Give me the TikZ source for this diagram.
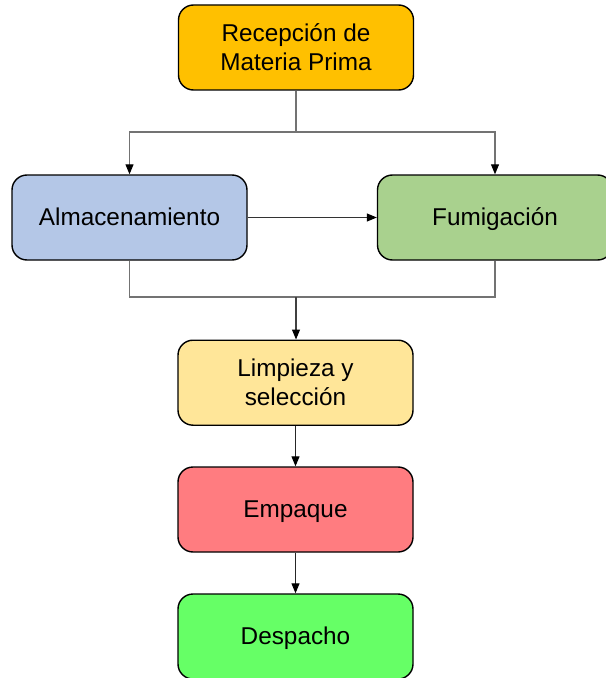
\documentclass[tikz,border=0pt]{standalone}
\usepackage{fontspec}
\setmainfont{Liberation Sans}
\usepackage{tikz}
\usetikzlibrary{calc,positioning,arrows.meta}
\definecolor{recep}{HTML}{FFC000}
\definecolor{almac}{HTML}{B4C7E7}
\definecolor{fumig}{HTML}{A9D18E}
\definecolor{limp}{HTML}{FFE699}
\definecolor{empaq}{HTML}{FF7C80}
\definecolor{desp}{HTML}{66FF66}
\begin{document}
\begin{tikzpicture}[etapa/.style={draw=black,line width=1pt,fill=#1,rounded corners=0.375cm,
minimum width=5.875cm,minimum height=2.125cm,align=center,inner sep=0pt,
font=\fontsize{17.3}{20.6}\selectfont},
unalinea/.style={text height=15.6pt,text depth=3.6pt},
linea/.style={draw=black!55,line width=0.75pt},
flecha/.style={linea,-{Triangle[length=0.25cm,width=0.2cm,color=black]}}]
\useasboundingbox (0,0) rectangle (15.125,-16.95);
\node (rec) at (7.4,-1.1875)[etapa=recep]{Recepción de\\Materia Prima};
\node (alm) at (3.2375,-5.4375)[etapa=almac,unalinea]{Almacenamiento};
\node (fum) at (12.375,-5.4375)[etapa=fumig,unalinea]{Fumigación};
\node (lim) at (7.3875,-9.5375)[etapa=limp,yshift=-0.03cm]{Limpieza y\\selección};
\node (emp) at (7.3875,-12.7375)[etapa=empaq,unalinea]{Empaque};
\node (des) at (7.3875,-15.9125)[etapa=desp,unalinea]{Despacho};
\coordinate (reparto) at (7.4,-3.3);
\coordinate (union) at (7.4,-7.425);
\draw[linea] (rec.south) -- (reparto);
\draw[flecha] (reparto) -| (alm.north);
\draw[flecha] (reparto) -| (fum.north);
\draw[flecha,draw=black!80] (alm.east) -- (fum.west);
\draw[linea] (alm.south) |- (union) -| (fum.south);
\draw[flecha,draw=black!75] (union) -- (union |- lim.north);
\draw[flecha,draw=black!85] (lim.south) -- (emp.north);
\draw[flecha,draw=black!85] (emp.south) -- (des.north);
\end{tikzpicture}
\end{document}
